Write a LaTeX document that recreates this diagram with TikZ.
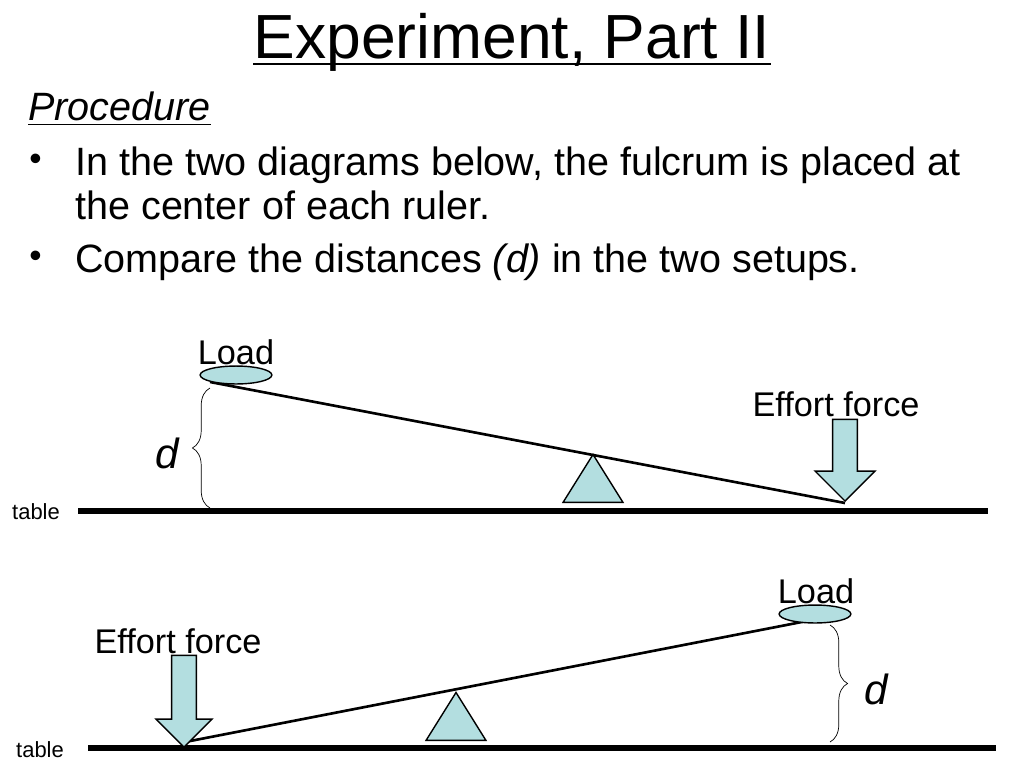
\documentclass[tikz,border=0pt]{standalone}
\usepackage{fontspec}
\setmainfont{Liberation Sans}
\usetikzlibrary{shapes.geometric,shapes.arrows,decorations.pathreplacing}
\definecolor{partblue}{HTML}{B3DEE0}
\tikzset{
  tableline/.style={line width=3pt},
  beam/.style={line width=1.5pt},
  partfill/.style={draw=black,fill=partblue,line width=0.8pt},
  lbl/.style={font=\fontsize{19.5}{22}\selectfont,inner sep=0pt},
  tbl/.style={font=\fontsize{12.5}{14}\selectfont,inner sep=0pt},
  body/.style={font=\fontsize{22.5}{26}\selectfont,inner sep=0pt,anchor=base west},
  ruleline/.style={line width=1pt},
  bracey/.style={decorate,decoration={brace,amplitude=10pt},line width=0.4pt}
}
\begin{document}
\begin{tikzpicture}[x=0.02cm,y=-0.02cm]
  \useasboundingbox (0,0) rectangle (1024,768);

  %% heading
  \node[inner sep=0pt,anchor=base] (title) at (512,58)
    {\fontsize{35.5}{38}\selectfont Experiment, Part II};
  \draw[ruleline] ([yshift=-3.5pt]title.base west) -- ([yshift=-3.5pt]title.base east);
  \node[anchor=base west,inner sep=0pt] (proc) at (28,120)
    {\fontsize{22.5}{26}\selectfont\itshape Procedure};
  \draw[line width=0.7pt] ([yshift=-2.5pt]proc.base west) -- ([yshift=-2.5pt]proc.base east);
  \node[body,font=\fontsize{20}{22}\selectfont] (bul1) at (29,170) {•};
  \node[body] (item1) at (75,175) {In the two diagrams below, the fulcrum is placed at};
  \node[body] (item1b) at (75,219) {the center of each ruler.};
  \node[body,font=\fontsize{20}{22}\selectfont] (bul2) at (29,267) {•};
  \node[body] (item2) at (75,272) {Compare the distances \textit{(d)} in the two setups.};

  %% first setup
  \node[tbl] (tableA) at (36,512) {table};
  \coordinate (tA1) at (78,511);
  \coordinate (tA2) at (988,511);
  \draw[tableline] (tA1) -- (tA2);
  \node[partfill,isosceles triangle,isosceles triangle apex angle=64,shape border rotate=90,
        minimum height=46pt*0.567,minimum width=60pt*0.567,inner sep=0pt,anchor=south] (fulA) at (593,503) {};
  \coordinate (bA1) at (210,382);
  \coordinate (bA2) at (845,503);
  \draw[beam] (bA1) -- (bA2);
  \node[partfill,ellipse,minimum width=72*0.567pt,minimum height=18*0.567pt,inner sep=0pt] (loadA) at (236,375) {};
  \node[lbl] (loadAt) at (236,352) {Load};
  \node[partfill,single arrow,shape border rotate=270,minimum height=82*0.567pt,
        minimum width=60*0.567pt,single arrow head extend=9pt,inner sep=6pt,anchor=tip] (effA) at (845,502) {};
  \node[lbl] (effAt) at (836,404) {Effort force};
  \draw[bracey] (210,508) -- (210,388);
  \node[lbl,font=\fontsize{24}{26}\selectfont\itshape] (dA) at (167,453) {d};

  %% second setup
  \node[tbl] (tableB) at (40,750) {table};
  \coordinate (tB1) at (88,748);
  \coordinate (tB2) at (996,748);
  \draw[tableline] (tB1) -- (tB2);
  \node[partfill,isosceles triangle,isosceles triangle apex angle=64,shape border rotate=90,
        minimum height=48pt*0.567,minimum width=60pt*0.567,inner sep=0pt,anchor=south] (fulB) at (456,741) {};
  \coordinate (bB1) at (185,742);
  \coordinate (bB2) at (812,620);
  \draw[beam] (bB1) -- (bB2);
  \node[partfill,ellipse,minimum width=72*0.567pt,minimum height=18*0.567pt,inner sep=0pt] (loadB) at (815,614) {};
  \node[lbl] (loadBt) at (816,591) {Load};
  \node[partfill,single arrow,shape border rotate=270,minimum height=92*0.567pt,
        minimum width=56*0.567pt,single arrow head extend=8pt,inner sep=6pt,anchor=tip] (effB) at (184,748) {};
  \node[lbl] (effBt) at (178,641) {Effort force};
  \draw[bracey] (830,625) -- (830,742);
  \node[lbl,font=\fontsize{24}{26}\selectfont\itshape] (dB) at (876,689) {d};
\end{tikzpicture}
\end{document}
